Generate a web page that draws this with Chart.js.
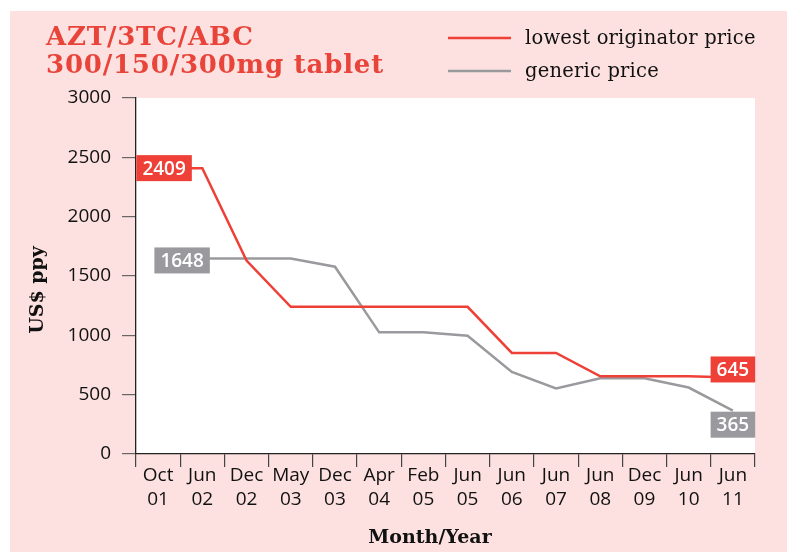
<!DOCTYPE html>
<html>
<head>
<meta charset="utf-8">
<script src="https://cdn.jsdelivr.net/npm/chart.js@4.4.1/dist/chart.umd.min.js"></script>
<style>
  html, body { margin: 0; padding: 0; background: #fff; }
  canvas { display: block; }
</style>
</head>
<body>
<canvas id="chart" width="787" height="552"></canvas>
<script>
// ============================================
// AZT/3TC/ABC price chart
// ============================================

const categories = [
    ['Oct', '01'], ['Jun', '02'], ['Dec', '02'], ['May', '03'], ['Dec', '03'],
    ['Apr', '04'], ['Feb', '05'], ['Jun', '05'], ['Jun', '06'], ['Jun', '07'],
    ['Jun', '08'], ['Dec', '09'], ['Jun', '10'], ['Jun', '11']
];
const originatorPrice = [2409, 2409, 1630, 1240, 1240, 1240, 1240, 1240, 852, 852, 655, 655, 655, 645];
const genericPrice = [1648, 1648, 1648, 1648, 1578, 1025, 1025, 997, 692, 553, 638, 638, 560, 365];
const seriesNames = ['lowest originator price', 'generic price'];
const titleLines = ['AZT/3TC/ABC', '300/150/300mg tablet'];
const yAxisTitle = 'US$ ppy';
const xAxisTitle = 'Month/Year';
const yMin = 0;
const yMax = 3000;
const yStep = 500;

const RED = '#ee4036';
const GREY = '#9a9a9e';
const PINK = '#fde0e0';
const SERIF = '"DejaVu Serif", "Liberation Serif", serif';
const SANS = '"Open Sans", "Noto Sans", sans-serif';

// Background: pink panel, white plot area
const backdrop = {
    id: 'backdrop',
    beforeDraw(chart) {
        const { ctx, chartArea: a } = chart;
        ctx.save();
        ctx.fillStyle = '#fff';
        ctx.fillRect(0, 0, chart.width, chart.height);
        ctx.fillStyle = PINK;
        ctx.fillRect(10, 11, chart.width - 10, chart.height - 11);
        ctx.fillStyle = '#fff';
        ctx.fillRect(a.left, a.top, a.right - a.left, a.bottom - a.top);
        ctx.restore();
    }
};

// Title, legend and axis titles
const decorations = {
    id: 'decorations',
    afterDraw(chart) {
        const { ctx } = chart;
        ctx.save();

        // title
        ctx.fillStyle = '#e8443a';
        ctx.font = 'bold 26px ' + SERIF;
        ctx.letterSpacing = '0.8px';
        ctx.textBaseline = 'alphabetic';
        ctx.textAlign = 'left';
        ctx.fillText(titleLines[0], 46, 45);
        ctx.fillText(titleLines[1], 46, 73);
        ctx.letterSpacing = '0px';

        // legend
        const rows = [38, 71];
        chart.data.datasets.forEach((ds, i) => {
            ctx.strokeStyle = ds.borderColor;
            ctx.lineWidth = 2.5;
            ctx.beginPath();
            ctx.moveTo(448, rows[i]);
            ctx.lineTo(511, rows[i]);
            ctx.stroke();
            ctx.fillStyle = '#111';
            ctx.font = '19.5px ' + SERIF;
            ctx.letterSpacing = '0.2px';
            ctx.textBaseline = 'middle';
            ctx.fillText(ds.label, 525, rows[i] + 1);
            ctx.letterSpacing = '0px';
        });

        // axis titles
        ctx.fillStyle = '#111';
        ctx.font = 'bold 19px ' + SERIF;
        ctx.textAlign = 'center';
        ctx.textBaseline = 'alphabetic';
        ctx.fillText(xAxisTitle, 430, 543);

        ctx.translate(38, 290);
        ctx.rotate(-Math.PI / 2);
        ctx.textBaseline = 'middle';
        ctx.fillText(yAxisTitle, 0, 0);
        ctx.restore();
    }
};

// Value tags on first and last points
const valueTags = {
    id: 'valueTags',
    afterDatasetsDraw(chart, args, opts) {
        const { ctx } = chart;
        ctx.save();
        ctx.font = '600 19px ' + SANS;
        ctx.textAlign = 'center';
        ctx.textBaseline = 'middle';
        opts.tags.forEach(t => {
            const ds = chart.data.datasets[t.dataset];
            const el = chart.getDatasetMeta(t.dataset).data[t.index];
            const text = String(ds.data[t.index]);
            const w = ctx.measureText(text).width + 12;
            const h = 26;
            const cx = el.x + t.dx;
            const cy = el.y + t.dy;
            ctx.fillStyle = ds.borderColor;
            ctx.fillRect(cx - w / 2, cy - h / 2, w, h);
            ctx.fillStyle = '#fff';
            ctx.fillText(text, cx, cy + 1);
        });
        ctx.restore();
    }
};

new Chart(document.getElementById('chart'), {
    type: 'line',
    data: {
        labels: categories,
        datasets: [
            {
                label: seriesNames[0],
                data: originatorPrice,
                borderColor: RED,
                backgroundColor: RED,
                borderWidth: 2.5,
                pointRadius: 0,
                tension: 0
            },
            {
                label: seriesNames[1],
                data: genericPrice,
                borderColor: GREY,
                backgroundColor: GREY,
                borderWidth: 2.5,
                pointRadius: 0,
                tension: 0
            }
        ]
    },
    options: {
        responsive: false,
        animation: false,
        layout: {
            padding: { top: 98, right: 32, left: 0, bottom: 0 }
        },
        scales: {
            x: {
                offset: true,
                afterFit: s => { s.height = 98; },
                grid: {
                    offset: true,
                    drawOnChartArea: false,
                    tickLength: 13,
                    color: '#444',
                    lineWidth: 1.2
                },
                border: { display: true, color: '#222', width: 1.3 },
                ticks: {
                    color: '#111',
                    font: { family: SANS, size: 19, lineHeight: 1.3 },
                    padding: -4,
                    maxRotation: 0,
                    autoSkip: false
                }
            },
            y: {
                min: yMin,
                max: yMax,
                afterFit: s => { s.width = 136; },
                grid: {
                    drawOnChartArea: false,
                    tickLength: 14,
                    color: '#666',
                    lineWidth: 1.2
                },
                border: { display: true, color: '#222', width: 1.3 },
                ticks: {
                    stepSize: yStep,
                    color: '#111',
                    font: { family: SANS, size: 19 },
                    padding: 11,
                    callback: value => String(value)
                }
            }
        },
        plugins: {
            legend: { display: false },
            tooltip: { enabled: false },
            valueTags: {
                tags: [
                    { dataset: 0, index: 0, dx: 6, dy: 0 },
                    { dataset: 1, index: 0, dx: 24, dy: 2 },
                    { dataset: 0, index: originatorPrice.length - 1, dx: 0, dy: -8 },
                    { dataset: 1, index: genericPrice.length - 1, dx: 0, dy: 14 }
                ]
            }
        }
    },
    plugins: [backdrop, decorations, valueTags]
});
</script>
</body>
</html>
